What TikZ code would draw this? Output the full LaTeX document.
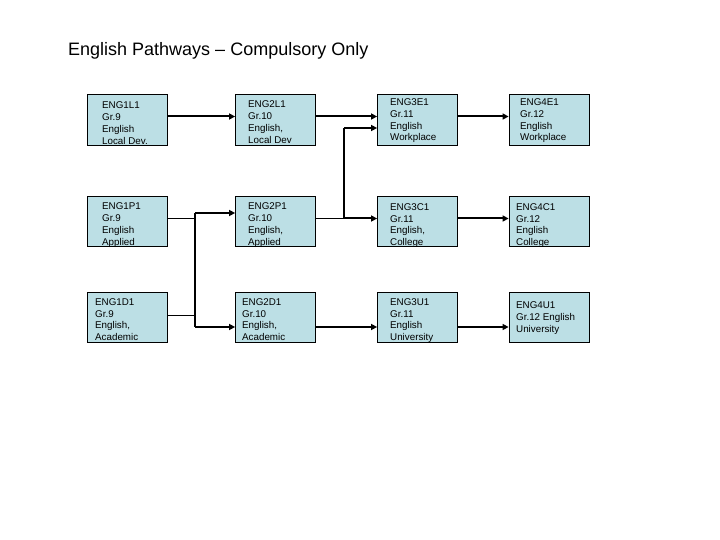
\documentclass[tikz,border=0pt]{standalone}
\usepackage{fontspec}
\setmainfont{Liberation Sans}
\usetikzlibrary{arrows.meta}
\definecolor{boxfill}{HTML}{BCDFE5}

\begin{document}
\begin{tikzpicture}[x=1pt,y=-1pt,>={Triangle[length=6pt,width=6pt]},line cap=butt,
  course/.style={draw=black,line width=0.8pt,fill=boxfill,minimum width=80,minimum height=50.5,inner sep=0},
  coursetext/.style={anchor=north west,inner sep=0,align=left,font=\fontsize{9.8}{11.8}\selectfont},
  link/.style={->,line width=2pt},
  wire/.style={line width=1pt},
  riser/.style={line width=1.4pt}]
\useasboundingbox (0,0) rectangle (720,540);
\node[anchor=base west,inner sep=0,font=\fontsize{18}{20}\selectfont] (title) at (68,56) {English Pathways -- Compulsory Only};
% course boxes
\node[course] (g9l) at (127.5,120) {};
\node[course] (g10l) at (275.5,120) {};
\node[course] (g11e) at (417.5,120) {};
\node[course] (g12e) at (549,120) {};
\node[course] (g9p) at (127.5,221.5) {};
\node[course] (g10p) at (275.5,221.5) {};
\node[course] (g11c) at (417.5,221.5) {};
\node[course] (g12c) at (549,221.5) {};
\node[course] (g9d) at (127.5,317.5) {};
\node[course] (g10d) at (275.5,317.5) {};
\node[course] (g11u) at (417.5,317.5) {};
\node[course] (g12u) at (549,317.5) {};
% course texts
\node[coursetext] (g9l-t) at (102,101.6) {ENG1L1\\Gr.9\\English\\Local Dev.};
\node[coursetext] (g10l-t) at (248,100.8) {ENG2L1\\Gr.10\\English,\\Local Dev};
\node[coursetext] (g11e-t) at (390,98.5) {ENG3E1\\Gr.11\\English\\Workplace};
\node[coursetext] (g12e-t) at (520,98.5) {ENG4E1\\Gr.12\\English\\Workplace};
\node[coursetext] (g9p-t) at (102,202.6) {ENG1P1\\Gr.9\\English\\Applied};
\node[coursetext] (g10p-t) at (248,202.6) {ENG2P1\\Gr.10\\English,\\Applied};
\node[coursetext] (g11c-t) at (390,203.3) {ENG3C1\\Gr.11\\English,\\College};
\node[coursetext] (g12c-t) at (516,203.3) {ENG4C1\\Gr.12\\English\\College};
\node[coursetext] (g9d-t) at (95,298.3) {ENG1D1\\Gr.9\\English,\\Academic};
\node[coursetext] (g10d-t) at (242,298.3) {ENG2D1\\Gr.10\\English,\\Academic};
\node[coursetext] (g11u-t) at (390,298.3) {ENG3U1\\Gr.11\\English\\University};
\node[coursetext] (g12u-t) at (516,301.6) {ENG4U1\\Gr.12 English\\University};
% junctions
\coordinate (jl1) at (195,213);
\coordinate (jl2) at (195,327);
\coordinate (jr1) at (344,128);
\coordinate (jr2) at (344,218.5);
% top row
\draw[link] ([yshift=3.5pt]g9l.east) -- ([yshift=3.5pt]g10l.west);
\draw[link] ([yshift=3.5pt]g10l.east) -- ([yshift=3.5pt]g11e.west);
\draw[link] ([yshift=3.5pt]g11e.east) -- ([yshift=3.5pt]g12e.west);
% grade 9 to grade 10
\draw[wire] ([yshift=2.5pt]g9p.east) -- ([yshift=2.5pt]g9p.east -| jl1);
\draw[wire] ([yshift=2.5pt]g9d.east) -- ([yshift=2.5pt]g9d.east -| jl1);
\draw[riser] (jl1) -- (jl2);
\draw[link] (jl1) -- (jl1 -| g10p.west);
\draw[link] (jl2) -- (jl2 -| g10d.west);
% grade 10 to grade 11
\draw[wire] ([yshift=3pt]g10p.east) -- (jr2);
\draw[riser] (jr2) -- (jr1);
\draw[link] (jr1) -- (jr1 -| g11e.west);
\draw[link] (jr2) -- (jr2 -| g11c.west);
\draw[link] (g10d.east |- jl2) -- (g11u.west |- jl2);
% grade 11 to grade 12
\draw[link] ([yshift=3pt]g11c.east) -- ([yshift=3pt]g12c.west);
\draw[link] (g11u.east |- jl2) -- (g12u.west |- jl2);
\end{tikzpicture}
\end{document}
